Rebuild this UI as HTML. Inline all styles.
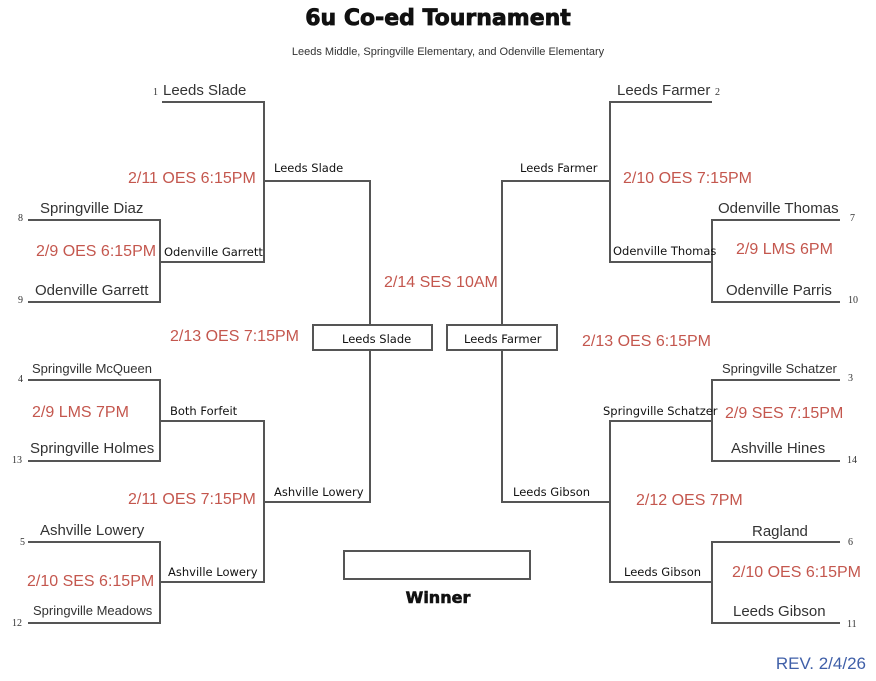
<!DOCTYPE html>
<html><head><meta charset="utf-8"><style>
html,body{margin:0;padding:0;background:#fff;}
svg{display:block;}
.t{font-family:"Liberation Sans",sans-serif;font-size:15px;fill:#333;}
.ts{font-family:"Liberation Sans",sans-serif;font-size:13px;fill:#333;}
.s{font-family:"DejaVu Sans",sans-serif;font-size:11.5px;fill:#111;}
.r{font-family:"Liberation Sans",sans-serif;font-size:16px;fill:#c4574e;}
.n{font-family:"Liberation Serif",serif;font-size:10px;fill:#333;}
</style></head><body>
<svg width="876" height="681" viewBox="0 0 876 681" xmlns="http://www.w3.org/2000/svg">
<g stroke="#555" stroke-width="2" fill="none">
<path d="M162 102H264V262H160M28 220H160V302H28M264 181H370V325M370 350V502H264M28 380H160V461H28M160 421H264V582H160M28 542H160V623H28"/>
<path d="M712 102H610V262H712M840 220H712V302H840M610 181H502V325M502 350V502H610M840 380H712V461H840M712 421H610V582H712M840 542H712V623H840"/>
<rect x="313" y="325" width="119" height="25"/>
<rect x="447" y="325" width="110" height="25"/>
<rect x="344" y="551" width="186" height="28"/>
</g>
<text x="438" y="25" text-anchor="middle" style="font-family:'DejaVu Sans',sans-serif;font-weight:900;font-size:22px;fill:#111;stroke:#111;stroke-width:0.8">6u Co-ed Tournament</text>
<text x="448" y="55" text-anchor="middle" style="font-family:'Liberation Sans',sans-serif;font-size:11px;fill:#333">Leeds Middle, Springville Elementary, and Odenville Elementary</text>
<text x="438" y="603" text-anchor="middle" style="font-family:'DejaVu Sans',sans-serif;font-weight:900;font-size:16px;fill:#111;stroke:#111;stroke-width:0.6">Winner</text>
<text x="866" y="669" text-anchor="end" style="font-family:'Liberation Sans',sans-serif;font-size:17px;fill:#3f5fa8">REV. 2/4/26</text>

<text class="n" x="153" y="95">1</text><text class="t" x="163" y="95">Leeds Slade</text>
<text class="n" x="18" y="221">8</text><text class="t" x="40" y="213">Springville Diaz</text>
<text class="n" x="18" y="303">9</text><text class="t" x="35" y="295">Odenville Garrett</text>
<text class="n" x="18" y="382">4</text><text class="ts" x="32" y="373">Springville McQueen</text>
<text class="n" x="12" y="463">13</text><text class="t" x="30" y="453">Springville Holmes</text>
<text class="n" x="20" y="545">5</text><text class="t" x="40" y="535">Ashville Lowery</text>
<text class="n" x="12" y="626">12</text><text class="ts" x="33" y="615">Springville Meadows</text>

<text class="n" x="715" y="95">2</text><text class="t" x="617" y="95">Leeds Farmer</text>
<text class="n" x="850" y="221">7</text><text class="t" x="718" y="213">Odenville Thomas</text>
<text class="n" x="848" y="303">10</text><text class="t" x="726" y="295">Odenville Parris</text>
<text class="n" x="848" y="381">3</text><text class="ts" x="722" y="373">Springville Schatzer</text>
<text class="n" x="847" y="463">14</text><text class="t" x="731" y="453">Ashville Hines</text>
<text class="n" x="848" y="545">6</text><text class="t" x="752" y="536">Ragland</text>
<text class="n" x="847" y="627">11</text><text class="t" x="733" y="616">Leeds Gibson</text>

<text class="s" x="274" y="172">Leeds Slade</text>
<text class="s" x="164" y="256">Odenville Garrett</text>
<text class="s" x="170" y="415">Both Forfeit</text>
<text class="s" x="274" y="496">Ashville Lowery</text>
<text class="s" x="168" y="576">Ashville Lowery</text>
<text class="s" x="342" y="343">Leeds Slade</text>
<text class="s" x="464" y="343">Leeds Farmer</text>
<text class="s" x="520" y="172">Leeds Farmer</text>
<text class="s" x="613" y="255">Odenville Thomas</text>
<text class="s" x="603" y="415">Springville Schatzer</text>
<text class="s" x="513" y="496">Leeds Gibson</text>
<text class="s" x="624" y="576">Leeds Gibson</text>

<text class="r" x="128" y="183">2/11 OES 6:15PM</text>
<text class="r" x="36" y="256">2/9 OES 6:15PM</text>
<text class="r" x="170" y="341">2/13 OES 7:15PM</text>
<text class="r" x="32" y="417">2/9 LMS 7PM</text>
<text class="r" x="128" y="504">2/11 OES 7:15PM</text>
<text class="r" x="27" y="586">2/10 SES 6:15PM</text>
<text class="r" x="384" y="287">2/14 SES 10AM</text>
<text class="r" x="623" y="183">2/10 OES 7:15PM</text>
<text class="r" x="736" y="254">2/9 LMS 6PM</text>
<text class="r" x="582" y="346">2/13 OES 6:15PM</text>
<text class="r" x="725" y="418">2/9 SES 7:15PM</text>
<text class="r" x="636" y="505">2/12 OES 7PM</text>
<text class="r" x="732" y="577">2/10 OES 6:15PM</text>
</svg>
</body></html>
